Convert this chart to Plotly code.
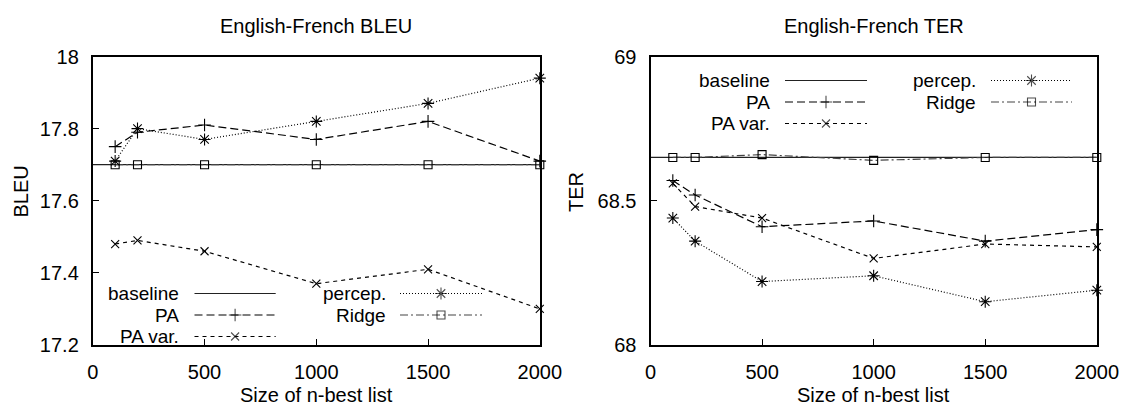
import plotly.graph_objects as go

# Figure size in pixels
W, H = 1123, 406

# ---- data -------------------------------------------------------------
nbest = [100, 200, 500, 1000, 1500, 2000]

bleu_baseline = 17.70
bleu_pa = [17.75, 17.79, 17.81, 17.77, 17.82, 17.71]
bleu_pa_var = [17.48, 17.49, 17.46, 17.37, 17.41, 17.30]
bleu_percep = [17.71, 17.80, 17.77, 17.82, 17.87, 17.94]
bleu_ridge = [17.70, 17.70, 17.70, 17.70, 17.70, 17.70]

ter_baseline = 68.65
ter_pa = [68.57, 68.52, 68.41, 68.43, 68.36, 68.40]
ter_pa_var = [68.56, 68.48, 68.44, 68.30, 68.35, 68.34]
ter_percep = [68.44, 68.36, 68.22, 68.24, 68.15, 68.19]
ter_ridge = [68.65, 68.65, 68.66, 68.64, 68.65, 68.65]

x_ticks = [0, 500, 1000, 1500, 2000]
bleu_ticks = [17.2, 17.4, 17.6, 17.8, 18.0]
bleu_ticktext = ["17.2", "17.4", "17.6", "17.8", "18"]
ter_ticks = [68.0, 68.5, 69.0]
ter_ticktext = ["68", "68.5", "69"]

panel_titles = ["English-French BLEU", "English-French TER"]
y_titles = ["BLEU", "TER"]
x_title = "Size of n-best list"
series_names = ["baseline", "PA", "PA var.", "percep.", "Ridge"]

# ---- styles -----------------------------------------------------------
FONT = "Liberation Sans, Arial, Helvetica, sans-serif"
FS = 20
KEY_FS = 19
INK = "#000000"
STYLE = {
    "baseline": dict(dash="solid", symbol=None, size=0, color="#222222"),
    "PA": dict(dash="8px,4px", symbol="cross-thin-open", size=9, color=INK),
    "PA var.": dict(dash="4px,4px", symbol="x-thin-open", size=8, color=INK),
    "percep.": dict(dash="1px,2px", symbol="asterisk-open", size=10, color=INK),
    "Ridge": dict(dash="8px,3px,2px,3px", symbol="square-open", size=8, color="#444444"),
}

# panel frames in pixels: (left, right, top, bottom)
PANELS = [(92.8, 539.8, 56.5, 345.0), (650.5, 1096.8, 56.5, 345.0)]

# key layout per panel: column text right edge, sample start/end, row y's
KEYS = [
    dict(cols=[(180.5, 194.5, 275.7), (387.0, 400.0, 482.0)], rows=[293.5, 315.0, 336.5]),
    dict(cols=[(771.0, 785.0, 867.0), (977.0, 991.0, 1072.0)], rows=[80.5, 102.0, 123.5]),
]


def px(x):
    return x / W


def py(y):
    return 1 - y / H


fig = go.Figure()


def add_series(name, xs, ys, xa, ya):
    st = STYLE[name]
    mode = "lines" if st["symbol"] is None else "lines+markers"
    fig.add_trace(go.Scatter(
        x=xs, y=ys, mode=mode, name=name, showlegend=False,
        xaxis=xa, yaxis=ya, cliponaxis=False,
        line=dict(color=st["color"], width=1.2, dash=st["dash"]),
        marker=dict(symbol=st["symbol"] or "circle", size=st["size"],
                    color=INK, line=dict(color=INK, width=1.1)),
    ))


panels_data = [
    (bleu_baseline, bleu_pa, bleu_pa_var, bleu_percep, bleu_ridge),
    (ter_baseline, ter_pa, ter_pa_var, ter_percep, ter_ridge),
]

for i, (base, pa, pav, perc, ridge) in enumerate(panels_data):
    xa = "x" if i == 0 else "x2"
    ya = "y" if i == 0 else "y2"
    add_series("baseline", [x_ticks[0], x_ticks[-1]], [base, base], xa, ya)
    add_series("Ridge", nbest, ridge, xa, ya)
    add_series("PA", nbest, pa, xa, ya)
    add_series("PA var.", nbest, pav, xa, ya)
    add_series("percep.", nbest, perc, xa, ya)

# ---- key (drawn on a full-figure pixel overlay) -----------------------
annotations = []
for k, key in enumerate(KEYS):
    slots = [(0, 0), (0, 1), (0, 2), (1, 0), (1, 1)]
    for name, (c, r) in zip(series_names, slots):
        tx, s0, s1 = key["cols"][c]
        yy = key["rows"][r]
        st = STYLE[name]
        sm = (s0 + s1) / 2
        fig.add_trace(go.Scatter(
            x=[s0, sm, s1], y=[yy, yy, yy], mode="lines+markers",
            xaxis="x3", yaxis="y3", showlegend=False, hoverinfo="skip",
            cliponaxis=False,
            line=dict(color=st["color"], width=1.2, dash=st["dash"]),
            marker=dict(symbol=st["symbol"] or "circle",
                        size=[0, st["size"] if st["symbol"] else 0, 0],
                        color=INK, line=dict(color=INK, width=1.1)),
        ))
        annotations.append(dict(
            x=px(tx), y=py(yy), xref="paper", yref="paper", text=name,
            xanchor="right", yanchor="middle", showarrow=False,
            borderpad=0,
            font=dict(family=FONT, size=KEY_FS, color="black"),
        ))

# ---- titles ------------------------------------------------------------
for i, (l, r, t, b) in enumerate(PANELS):
    cx = (l + r) / 2
    annotations.append(dict(x=px(cx), y=py(26), xref="paper", yref="paper",
                            text=panel_titles[i], showarrow=False,
                            xanchor="center", yanchor="middle",
                            font=dict(family=FONT, size=FS, color="black")))
    annotations.append(dict(x=px(cx), y=py(395), xref="paper", yref="paper",
                            text=x_title, showarrow=False,
                            xanchor="center", yanchor="middle",
                            font=dict(family=FONT, size=FS, color="black")))
    ytx = 20.5 if i == 0 else 576.0
    annotations.append(dict(x=px(ytx), y=py(192), xref="paper", yref="paper",
                            text=y_titles[i], showarrow=False, textangle=-90,
                            xanchor="center", yanchor="middle",
                            font=dict(family=FONT, size=FS, color="black")))

axis_common = dict(
    showgrid=False, zeroline=False, showline=True, linewidth=2,
    linecolor="black", mirror=True, ticks="inside", ticklen=6,
    tickwidth=1, tickcolor="black", automargin=False,
    tickfont=dict(family=FONT, size=FS, color="black"),
)

(l0, r0, t0, b0), (l1, r1, t1, b1) = PANELS
fig.update_layout(
    width=W, height=H,
    margin=dict(l=0, r=0, t=0, b=0, pad=0, autoexpand=False),
    paper_bgcolor="white", plot_bgcolor="rgba(0,0,0,0)",
    showlegend=False,
    xaxis=dict(domain=[px(l0), px(r0)], range=[0, 2000], tickvals=x_ticks,
               anchor="y", ticklabelstandoff=8, **axis_common),
    yaxis=dict(domain=[py(b0), py(t0)], range=[17.2, 18.0],
               tickvals=bleu_ticks, ticktext=bleu_ticktext,
               anchor="x", ticklabelstandoff=8, **axis_common),
    xaxis2=dict(domain=[px(l1), px(r1)], range=[0, 2000], tickvals=x_ticks,
                anchor="y2", ticklabelstandoff=8, **axis_common),
    yaxis2=dict(domain=[py(b1), py(t1)], range=[68.0, 69.0],
                tickvals=ter_ticks, ticktext=ter_ticktext,
                anchor="x2", ticklabelstandoff=8, **axis_common),
    xaxis3=dict(domain=[0, 1], range=[0, W], visible=False, anchor="y3",
                fixedrange=True, automargin=False),
    yaxis3=dict(domain=[0, 1], range=[H, 0], visible=False, anchor="x3",
                fixedrange=True, automargin=False),
    annotations=annotations,
)

fig.write_html("out.html")
